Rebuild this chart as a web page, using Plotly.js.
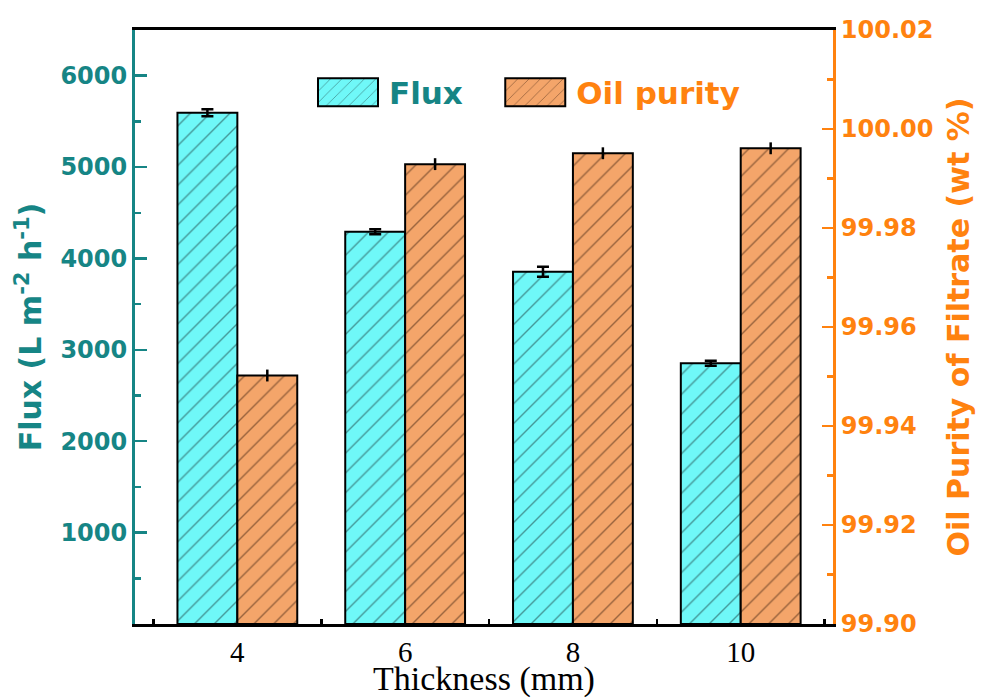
<!DOCTYPE html>
<html>
<head>
<meta charset="utf-8">
<script src="https://cdn.plot.ly/plotly-3.0.1.min.js"></script>
<style>html,body{margin:0;padding:0;background:#fff;}#chart{width:984px;height:698px;}</style>
</head>
<body>
<div id="chart"></div>
<script>
// ---- data ----
var thickness = ['4', '6', '8', '10'];
var flux = [5595, 4293, 3855, 2853];
var fluxErr = [38, 27, 55, 27];
var purity = [99.9502, 99.9929, 99.9951, 99.9961];
var purityErr = [0.0012, 0.0012, 0.0012, 0.0012];
var purityBase = 99.9;
var fluxTicks = [1000, 2000, 3000, 4000, 5000, 6000];
var fluxMinorTicks = [500, 1500, 2500, 3500, 4500, 5500, 6500];

var TEAL = '#168585';
var ORANGE = '#ff820f';
var NBSP = '\u00a0';

var traceFlux = {
  type: 'bar', x: thickness, y: flux, yaxis: 'y',
  name: '<span style="color:' + TEAL + '">Flux</span>' + NBSP + NBSP + NBSP,
  width: 0.357, offset: -0.357,
  marker: {color: '#6ff8f8', line: {color: '#000', width: 2},
    pattern: {shape: '/', size: 14, solidity: 0.1, fgcolor: '#1a3535', bgcolor: '#6ff8f8', fillmode: 'overlay'}},
  error_y: {type: 'data', array: fluxErr, visible: true, color: '#000', thickness: 2.5, width: 6}
};
var tracePurity = {
  type: 'bar', x: thickness, y: purity.map(function (v) { return v - purityBase; }), yaxis: 'y2',
  base: purityBase,
  name: '<span style="color:' + ORANGE + '">Oil purity</span>',
  width: 0.357, offset: 0,
  marker: {color: '#f4a56a', line: {color: '#000', width: 2},
    pattern: {shape: '/', size: 14, solidity: 0.1, fgcolor: '#3a2010', bgcolor: '#f4a56a', fillmode: 'overlay'}},
  error_y: {type: 'data', array: purityErr, visible: true, color: '#000', thickness: 2.5, width: 0}
};

var layout = {
  width: 984, height: 698,
  margin: {l: 135, r: 151, t: 30, b: 74, pad: 0},
  paper_bgcolor: '#fff', plot_bgcolor: '#fff',
  showlegend: true,
  legend: {orientation: 'h', x: 0.255, y: 0.94, xanchor: 'left', yanchor: 'top',
    font: {family: 'DejaVu Sans', size: 31, weight: 'bold'}, bgcolor: 'rgba(0,0,0,0)',
    itemwidth: 66},
  xaxis: {
    type: 'category', range: [-0.61, 3.55],
    showline: true, linecolor: '#000', linewidth: 3, mirror: true,
    ticks: 'inside', tickson: 'boundaries', ticklen: 5, tickwidth: 2.5, tickcolor: '#000',
    showgrid: false, zeroline: false,
    tickfont: {family: 'Liberation Serif', size: 29, color: '#000'},
    title: {text: 'Thickness (mm)', font: {family: 'Liberation Serif', size: 34, color: '#000'}, standoff: 0}
  },
  yaxis: {
    range: [0, 6500], tickmode: 'array', tickvals: fluxTicks,
    showline: true, linecolor: TEAL, linewidth: 3,
    ticks: 'inside', ticklen: 12, tickwidth: 2.5, tickcolor: TEAL,
    showgrid: false, zeroline: false,
    tickfont: {family: 'DejaVu Sans', size: 24, color: TEAL, weight: 'bold'},
    minor: {tickmode: 'array', tickvals: fluxMinorTicks, ticks: 'inside', ticklen: 6, tickwidth: 2.5, tickcolor: TEAL, showgrid: false},
    title: {text: 'Flux (L m<sup>-2</sup> h<sup>-1</sup>)', font: {family: 'DejaVu Sans', size: 30, color: TEAL, weight: 'bold'}, standoff: 10}
  },
  yaxis2: {
    overlaying: 'y', side: 'right', anchor: 'x',
    range: [99.90, 100.02], tickmode: 'linear', tick0: 99.90, dtick: 0.02, tickformat: '.2f',
    showline: true, linecolor: ORANGE, linewidth: 3,
    ticks: 'inside', ticklen: 11, tickwidth: 2.5, tickcolor: ORANGE,
    showgrid: false, zeroline: false,
    tickfont: {family: 'DejaVu Sans', size: 24, color: ORANGE, weight: 'bold'},
    minor: {tickmode: 'linear', tick0: 99.91, dtick: 0.02, ticks: 'inside', ticklen: 6, tickwidth: 2.5, tickcolor: ORANGE, showgrid: false},
    title: {text: 'Oil Purity of Filtrate (wt %)', font: {family: 'DejaVu Sans', size: 30, color: ORANGE, weight: 'bold'}, standoff: 16}
  },
  bargap: 0.286
};

Plotly.newPlot('chart', [traceFlux, tracePurity], layout, {staticPlot: true, displayModeBar: false}).then(function (gd) {
  // enlarge the legend swatches to wide rectangles like the reference
  var paths = gd.querySelectorAll('.legend .legendpoints path');
  paths.forEach(function (p) { p.setAttribute('d', 'M27,14H-33V-14H27Z'); });
});
</script>
</body>
</html>
